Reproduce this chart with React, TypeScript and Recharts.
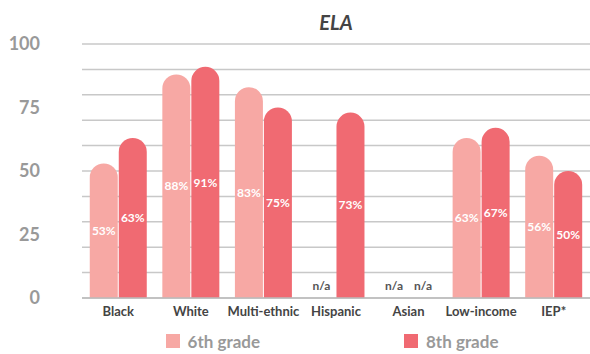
import React from "react";
import { BarChart, Bar, XAxis, YAxis, CartesianGrid, Legend, LabelList, Rectangle } from "recharts";

const categories = ["Black", "White", "Multi-ethnic", "Hispanic", "Asian", "Low-income", "IEP*"];
const grade6 = [53, 88, 83, null, null, 63, 56];
const grade8 = [63, 91, 75, 73, null, 67, 50];
const yTicks = [0, 25, 50, 75, 100];
const gridTicks = [0, 10, 20, 30, 40, 50, 60, 70, 80, 90, 100];

const data = categories.map((c, i) => ({ name: c, g6: grade6[i], g8: grade8[i] }));

const COLOR6 = "#F7A8A4";
const COLOR8 = "#F06A72";
const FONT = "Lato, 'Open Sans', sans-serif";

const renderLabel = (props: any) => {
  const { x, y, width, height, value } = props;
  if (value === null || value === undefined || value === 0) return null;
  const cx = Number(x) + Number(width) / 2;
  const cy = Number(y) + Number(height) / 2;
  return (
    <text x={cx} y={cy} dy="0.35em" textAnchor="middle" fill="#fff" fontSize={12} fontWeight={700} fontFamily={FONT}>
      {value}%
    </text>
  );
};

const renderShape = (props: any) => {
  const { x, y, width, height } = props;
  if (!height) {
    return (
      <text x={Number(x) + Number(width) / 2} y={Number(y) - 8} textAnchor="middle" fill="#555" fontSize={12} fontWeight={700} fontFamily={FONT}>
        n/a
      </text>
    );
  }
  return <Rectangle {...props} />;
};

const renderYTick = (props: any) => {
  const { x, y, payload } = props;
  return (
    <text x={Number(x) - 42} y={y} dy="0.35em" textAnchor="end" fill="#999" fontSize={18} fontWeight={700} fontFamily={FONT}>
      {payload.value}
    </text>
  );
};

const renderLegend = () => (
  <div style={{ display: "flex", justifyContent: "center", alignItems: "center", fontFamily: FONT, height: 22, paddingLeft: 74 }}>
    <div style={{ display: "flex", alignItems: "center", marginRight: 144 }}>
      <span style={{ display: "inline-block", width: 14, height: 14, background: COLOR6, marginRight: 8 }} />
      <span style={{ color: "#999", fontSize: 17, fontWeight: 700 }}>6th grade</span>
    </div>
    <div style={{ display: "flex", alignItems: "center" }}>
      <span style={{ display: "inline-block", width: 14, height: 14, background: COLOR8, marginRight: 8 }} />
      <span style={{ color: "#999", fontSize: 17, fontWeight: 700 }}>8th grade</span>
    </div>
  </div>
);

const val6 = (d: any) => (d.g6 == null ? 0 : d.g6);
const val8 = (d: any) => (d.g8 == null ? 0 : d.g8);

export default function App() {
  return (
    <div style={{ position: "absolute", left: 0, top: 0, width: 590, height: 354, background: "#fff" }}>
      <div
        style={{
          position: "absolute",
          left: 82,
          width: 508,
          top: 8,
          textAlign: "center",
          fontFamily: FONT,
          fontStyle: "italic",
          fontWeight: 700,
          fontSize: 20,
          color: "#444",
          lineHeight: "28px",
        }}
      >
        ELA
      </div>
      <BarChart
        width={590}
        height={354}
        data={data}
        margin={{ top: 44, right: 0, left: 0, bottom: 2 }}
        barCategoryGap="10.7%"
        barGap={1}
      >
        <CartesianGrid vertical={false} horizontalValues={gridTicks} stroke="#C8C8C8" strokeWidth={1.5} />
        <YAxis
          domain={[0, 100]}
          ticks={yTicks}
          width={82}
          axisLine={false}
          tickLine={false}
          tickSize={0}
          tickMargin={0}
          tick={renderYTick}
        />
        <XAxis
          dataKey="name"
          height={32}
          axisLine={{ stroke: "#BBBBBB", strokeWidth: 1.5 }}
          tickLine={false}
          tickSize={0}
          tickMargin={9}
          interval={0}
          tick={{ fill: "#444", fontSize: 13, fontWeight: 700, fontFamily: FONT }}
        />
        <Legend verticalAlign="bottom" height={22} content={renderLegend} />
        <Bar dataKey={val6} name="6th grade" fill={COLOR6} radius={[14, 14, 0, 0]} shape={renderShape} isAnimationActive={false}>
          <LabelList content={renderLabel} />
        </Bar>
        <Bar dataKey={val8} name="8th grade" fill={COLOR8} radius={[14, 14, 0, 0]} shape={renderShape} isAnimationActive={false}>
          <LabelList content={renderLabel} />
        </Bar>
      </BarChart>
    </div>
  );
}
